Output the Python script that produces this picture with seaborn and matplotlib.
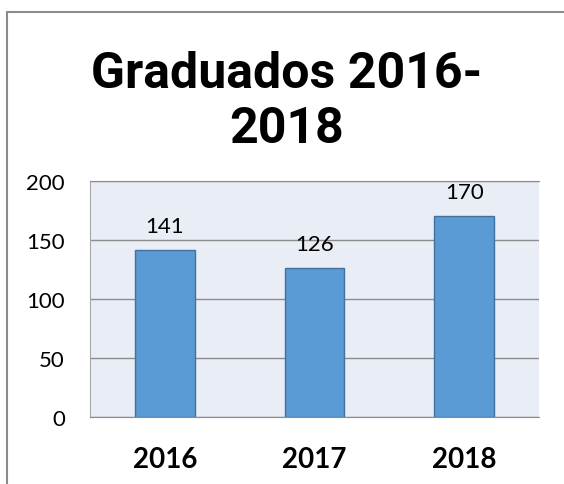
import pandas as pd
import seaborn as sns
import matplotlib.pyplot as plt
from matplotlib.lines import Line2D

# Data
years = ["2016", "2017", "2018"]
graduados = [141, 126, 170]
y_ticks = [0, 50, 100, 150, 200]

df = pd.DataFrame({"Año": years, "Graduados": graduados})

sns.set_style("white")
plt.rcParams["font.family"] = ["Lato", "DejaVu Sans"]
plt.rcParams["text.color"] = "black"
plt.rcParams["xtick.color"] = "black"
plt.rcParams["ytick.color"] = "black"

fig = plt.figure(figsize=(5.64, 4.85), dpi=100)
ax = fig.add_axes([0.1596, 0.138, 0.7961, 0.4876])
ax.set_facecolor("#E9EDF6")

sns.barplot(data=df, x="Año", y="Graduados", color="#5B9BD5", saturation=1,
            width=0.4, edgecolor="#41719C", linewidth=1, ax=ax, zorder=3)

ax.set_ylim(0, 200)
ax.set_yticks(y_ticks)
ax.set_xlim(-0.5, 2.5)
ax.yaxis.grid(True, color="#8C8C8C", linewidth=1, zorder=0)
ax.set_axisbelow(True)
ax.spines["right"].set_visible(False)
ax.spines["left"].set_color("#A6A6A6")
ax.spines["bottom"].set_color("#8C8C8C")
ax.spines["top"].set_color("#8C8C8C")

ax.tick_params(axis="y", length=0, pad=18, labelsize=16)
ax.tick_params(axis="x", length=0, pad=21, labelsize=20)
for lbl in ax.get_xticklabels():
    lbl.set_fontweight("bold")
ax.set_xlabel("")
ax.set_ylabel("")

# value labels above the bars
for i, v in enumerate(graduados):
    ax.annotate(str(v), (i, v), xytext=(0, 10), textcoords="offset points",
                ha="center", va="bottom", fontsize=16)

fig.text(0.508, 0.79, "Graduados 2016-\n2018", ha="center", va="center",
         fontsize=36, fontweight="bold", family=["Roboto", "DejaVu Sans"],
         linespacing=1.2, color="black")

# outer chart border (cropped at right and bottom)
fig.add_artist(Line2D([6.5 / 564, 6.5 / 564], [0, 1 - 12.5 / 485],
                      transform=fig.transFigure, color="#8C8C8C", lw=1.5))
fig.add_artist(Line2D([6.5 / 564, 1], [1 - 12.5 / 485, 1 - 12.5 / 485],
                      transform=fig.transFigure, color="#8C8C8C", lw=1.5))

fig.savefig("out.png", dpi=100)
